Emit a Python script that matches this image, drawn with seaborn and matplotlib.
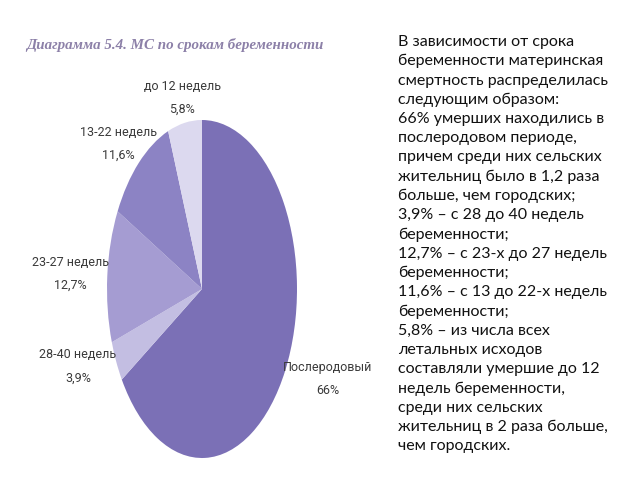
import matplotlib
matplotlib.use("Agg")
import matplotlib.pyplot as plt
import seaborn as sns

sns.set_theme(style="white")
plt.rcParams['font.family'] = ['Roboto', 'Liberation Sans', 'DejaVu Sans']

# Data
categories = ["Послеродовый", "28-40 недель", "23-27 недель", "13-22 недель", "до 12 недель"]
values = [66, 3.9, 12.7, 11.6, 5.8]
value_labels = ["66%", "3,9%", "12,7%", "11,6%", "5,8%"]
colors = ["#7B70B6", "#C3BEE2", "#A59CD2", "#8C83C4", "#DCD9EF"]

title = "Диаграмма 5.4. МС по срокам беременности"
body_lines = [
    "В зависимости от срока",
    "беременности материнская",
    "смертность распределилась",
    "следующим образом:",
    "66% умерших находились в",
    "послеродовом периоде,",
    "причем среди них сельских",
    "жительниц было в 1,2 раза",
    "больше, чем городских;",
    "3,9% – с 28 до 40 недель",
    "беременности;",
    "12,7% – с 23-х до 27 недель",
    "беременности;",
    "11,6% – с 13 до 22-х недель",
    "беременности;",
    "5,8% – из числа всех",
    "летальных исходов",
    "составляли умершие до 12",
    "недель беременности,",
    "среди них сельских",
    "жительниц в 2 раза больше,",
    "чем городских.",
]

W, H = 640, 480
fig = plt.figure(figsize=(6.4, 4.8), dpi=100)
fig.patch.set_facecolor("white")

# pie axes (stretched ellipse)
left, right, top, bottom = 107, 297, 120, 458
ax = fig.add_axes([left / W, 1 - bottom / H, (right - left) / W, (bottom - top) / H])
ax.pie(values, colors=colors, startangle=90, counterclock=False,
       wedgeprops=dict(linewidth=0))
ax.set_aspect("auto")
ax.set_xlim(-1, 1)
ax.set_ylim(-1, 1)
ax.axis("off")

# labels (pixel positions of label centres)
label_pos = {
    "Послеродовый": (328, 368),
    "28-40 недель": (78, 355),
    "23-27 недель": (70, 262),
    "13-22 недель": (118, 132),
    "до 12 недель": (182, 86),
}
for cat, vl in zip(categories, value_labels):
    x, y = label_pos[cat]
    fig.text(x / W, 1 - y / H, cat, ha="center", va="center", fontsize=9,
             color="#3a3a3a")
    fig.text(x / W, 1 - (y + 23) / H, vl, ha="center", va="center", fontsize=9,
             color="#3a3a3a")

# title
fig.text(175 / W, 1 - 45 / H, title, ha="center", va="center", fontsize=10.8,
         family=["Liberation Serif", "DejaVu Serif"], style="italic", weight="bold",
         color="#8C80A8")

# body text
y0, dy = 42, 19.25
for i, line in enumerate(body_lines):
    fig.text(398 / W, 1 - (y0 + i * dy) / H, line, ha="left", va="center",
             fontsize=11.5, family=["Lato", "DejaVu Sans"], color="#111111")

fig.savefig("out.png", dpi=100, facecolor="white")
